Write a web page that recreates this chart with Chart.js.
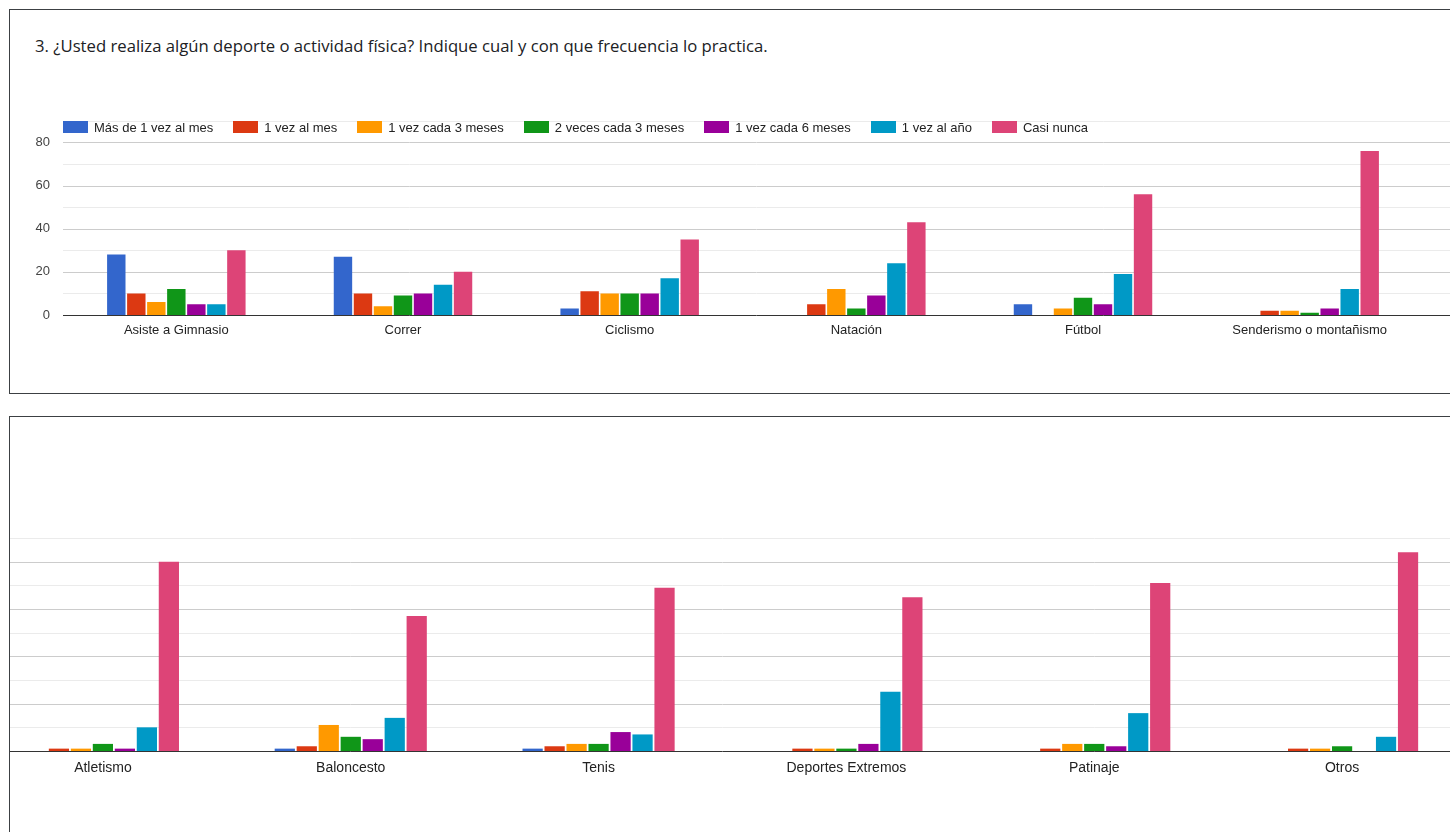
<!DOCTYPE html>
<html>
<head>
<meta charset="utf-8">
<script src="https://cdn.jsdelivr.net/npm/chart.js@4"></script>
<style>
  body { margin: 0; width: 1450px; height: 832px; overflow: hidden; background: #fff; position: relative; font-family: Arial, "Liberation Sans", sans-serif; }
  .panel { position: absolute; border: 1px solid #3c4043; box-sizing: border-box; overflow: hidden; }
  #panelTop { left: 9px; top: 9px; width: 1460px; height: 385px; }
  #panelBottom { left: 9px; top: 416px; width: 1460px; height: 440px; }
  #title { position: absolute; left: 35px; top: 36px; font-family: "Open Sans", Roboto, sans-serif; font-size: 16.7px; line-height: 20px; color: #202124; white-space: nowrap; }
  #legend { position: absolute; left: 63px; top: 118px; display: flex; font-size: 13px; color: #222; white-space: nowrap; }
  #legend .item { display: flex; align-items: center; margin-right: 20px; height: 18px; }
  #legend .swatch { width: 25px; height: 12px; margin-right: 6px; }
  #chartTop { position: absolute; left: 0; top: 100px; }
  #chartBottom { position: absolute; left: -31px; top: 83px; }
</style>
</head>
<body>
<div class="panel" id="panelTop"></div>
<div id="title">3. ¿Usted realiza algún deporte o actividad física? Indique cual y con que frecuencia lo practica.</div>
<canvas id="chartTop" width="1450" height="260"></canvas>
<div id="legend"></div>
<div class="panel" id="panelBottom">
  <canvas id="chartBottom" width="1487" height="300"></canvas>
</div>

<script>
// categories (first six in the upper panel, the rest in the lower one)
const categories = ['Asiste a Gimnasio', 'Correr', 'Ciclismo', 'Natación', 'Fútbol', 'Senderismo o montañismo',
                    'Atletismo', 'Baloncesto', 'Tenis', 'Deportes Extremos', 'Patinaje', 'Otros'];

// one array per answer option, same order as categories
const masDeUnaVezAlMes   = [28, 27,  3,  0,  5,  0,   0,  1,  1,  0,  0,  0];
const unaVezAlMes        = [10, 10, 11,  5,  0,  2,   1,  2,  2,  1,  1,  1];
const unaVezCada3Meses   = [ 6,  4, 10, 12,  3,  2,   1, 11,  3,  1,  3,  1];
const dosVecesCada3Meses = [12,  9, 10,  3,  8,  1,   3,  6,  3,  1,  3,  2];
const unaVezCada6Meses   = [ 5, 10, 10,  9,  5,  3,   1,  5,  8,  3,  2,  0];
const unaVezAlAno        = [ 5, 14, 17, 24, 19, 12,  10, 14,  7, 25, 16,  6];
const casiNunca          = [30, 20, 35, 43, 56, 76,  80, 57, 69, 65, 71, 84];

const seriesNames = ['Más de 1 vez al mes', '1 vez al mes', '1 vez cada 3 meses', '2 veces cada 3 meses',
                     '1 vez cada 6 meses', '1 vez al año', 'Casi nunca'];
const seriesValues = [masDeUnaVezAlMes, unaVezAlMes, unaVezCada3Meses, dosVecesCada3Meses,
                      unaVezCada6Meses, unaVezAlAno, casiNunca];
const seriesColors = ['#3366cc', '#dc3912', '#ff9900', '#109618', '#990099', '#0099c6', '#dd4477'];

const yTickLabels = ['0', '20', '40', '60', '80'];

// legend (html, sits over the top of the plot like the original)
const legendEl = document.getElementById('legend');
seriesNames.forEach((name, i) => {
    const item = document.createElement('div');
    item.className = 'item';
    item.innerHTML = '<span class="swatch" style="background:' + seriesColors[i] + '"></span>' + name;
    legendEl.appendChild(item);
});

// gridlines that run past the plot area to the edge of the canvas
const fullGrid = {
    id: 'fullGrid',
    beforeDatasetsDraw(chart, args, opts) {
        const ctx = chart.ctx, y = chart.scales.y;
        const x0 = opts.from, x1 = chart.width;
        ctx.save();
        for (let v = 10; v <= 90; v += 10) {
            const py = Math.round(y.getPixelForValue(v)) + 0.5;
            ctx.strokeStyle = v % 20 === 0 ? '#cccccc' : '#ebebeb';
            ctx.lineWidth = 1;
            ctx.beginPath();
            ctx.moveTo(x0, py);
            ctx.lineTo(x1, py);
            ctx.stroke();
        }
        ctx.restore();
    },
    afterDatasetsDraw(chart, args, opts) {
        const ctx = chart.ctx, y = chart.scales.y;
        const py = Math.round(y.getPixelForValue(0)) + 0.5;
        ctx.save();
        ctx.strokeStyle = '#333333';
        ctx.lineWidth = 1;
        ctx.beginPath();
        ctx.moveTo(opts.from, py);
        ctx.lineTo(chart.width, py);
        ctx.stroke();
        ctx.restore();
    }
};

function makeChart(canvasId, from, to, opt) {
    const datasets = seriesNames.map((name, i) => ({
        label: name,
        data: seriesValues[i].slice(from, to),
        backgroundColor: seriesColors[i],
        borderWidth: 0,
        categoryPercentage: opt.catPct,
        barPercentage: 0.92
    }));
    return new Chart(document.getElementById(canvasId), {
        type: 'bar',
        data: { labels: categories.slice(from, to), datasets: datasets },
        plugins: [fullGrid],
        options: {
            responsive: false,
            animation: false,
            layout: { padding: { top: opt.padTop, right: opt.padRight, left: 0, bottom: 0 } },
            plugins: {
                legend: { display: false },
                tooltip: { enabled: false },
                fullGrid: { from: opt.gridFrom }
            },
            scales: {
                x: {
                    grid: { display: false, drawTicks: false },
                    border: { display: false },
                    ticks: { color: '#222', font: { family: 'Arial', size: opt.labelSize }, padding: opt.labelPad, maxRotation: 0, autoSkip: false },
                    afterFit: s => { s.height = opt.xHeight; }
                },
                y: {
                    display: opt.showY,
                    min: 0, max: 90,
                    grid: { display: false, drawTicks: false },
                    border: { display: false },
                    ticks: {
                        stepSize: 10,
                        color: '#444',
                        font: { family: 'Arial', size: 13 },
                        padding: 13,
                        callback: v => yTickLabels.includes(String(v)) ? String(v) : ''
                    },
                    afterFit: s => { s.width = opt.yWidth; }
                }
            }
        }
    });
}

makeChart('chartTop', 0, 6, {
    catPct: 0.618, padTop: 20, padRight: 27, gridFrom: 63,
    labelSize: 13, labelPad: 8, xHeight: 45, showY: true, yWidth: 63
});

makeChart('chartBottom', 6, 12, {
    catPct: 0.621, padTop: 38, padRight: 0, gridFrom: 0,
    labelSize: 14, labelPad: 9, xHeight: 49, showY: false, yWidth: 0
});
</script>
</body>
</html>
